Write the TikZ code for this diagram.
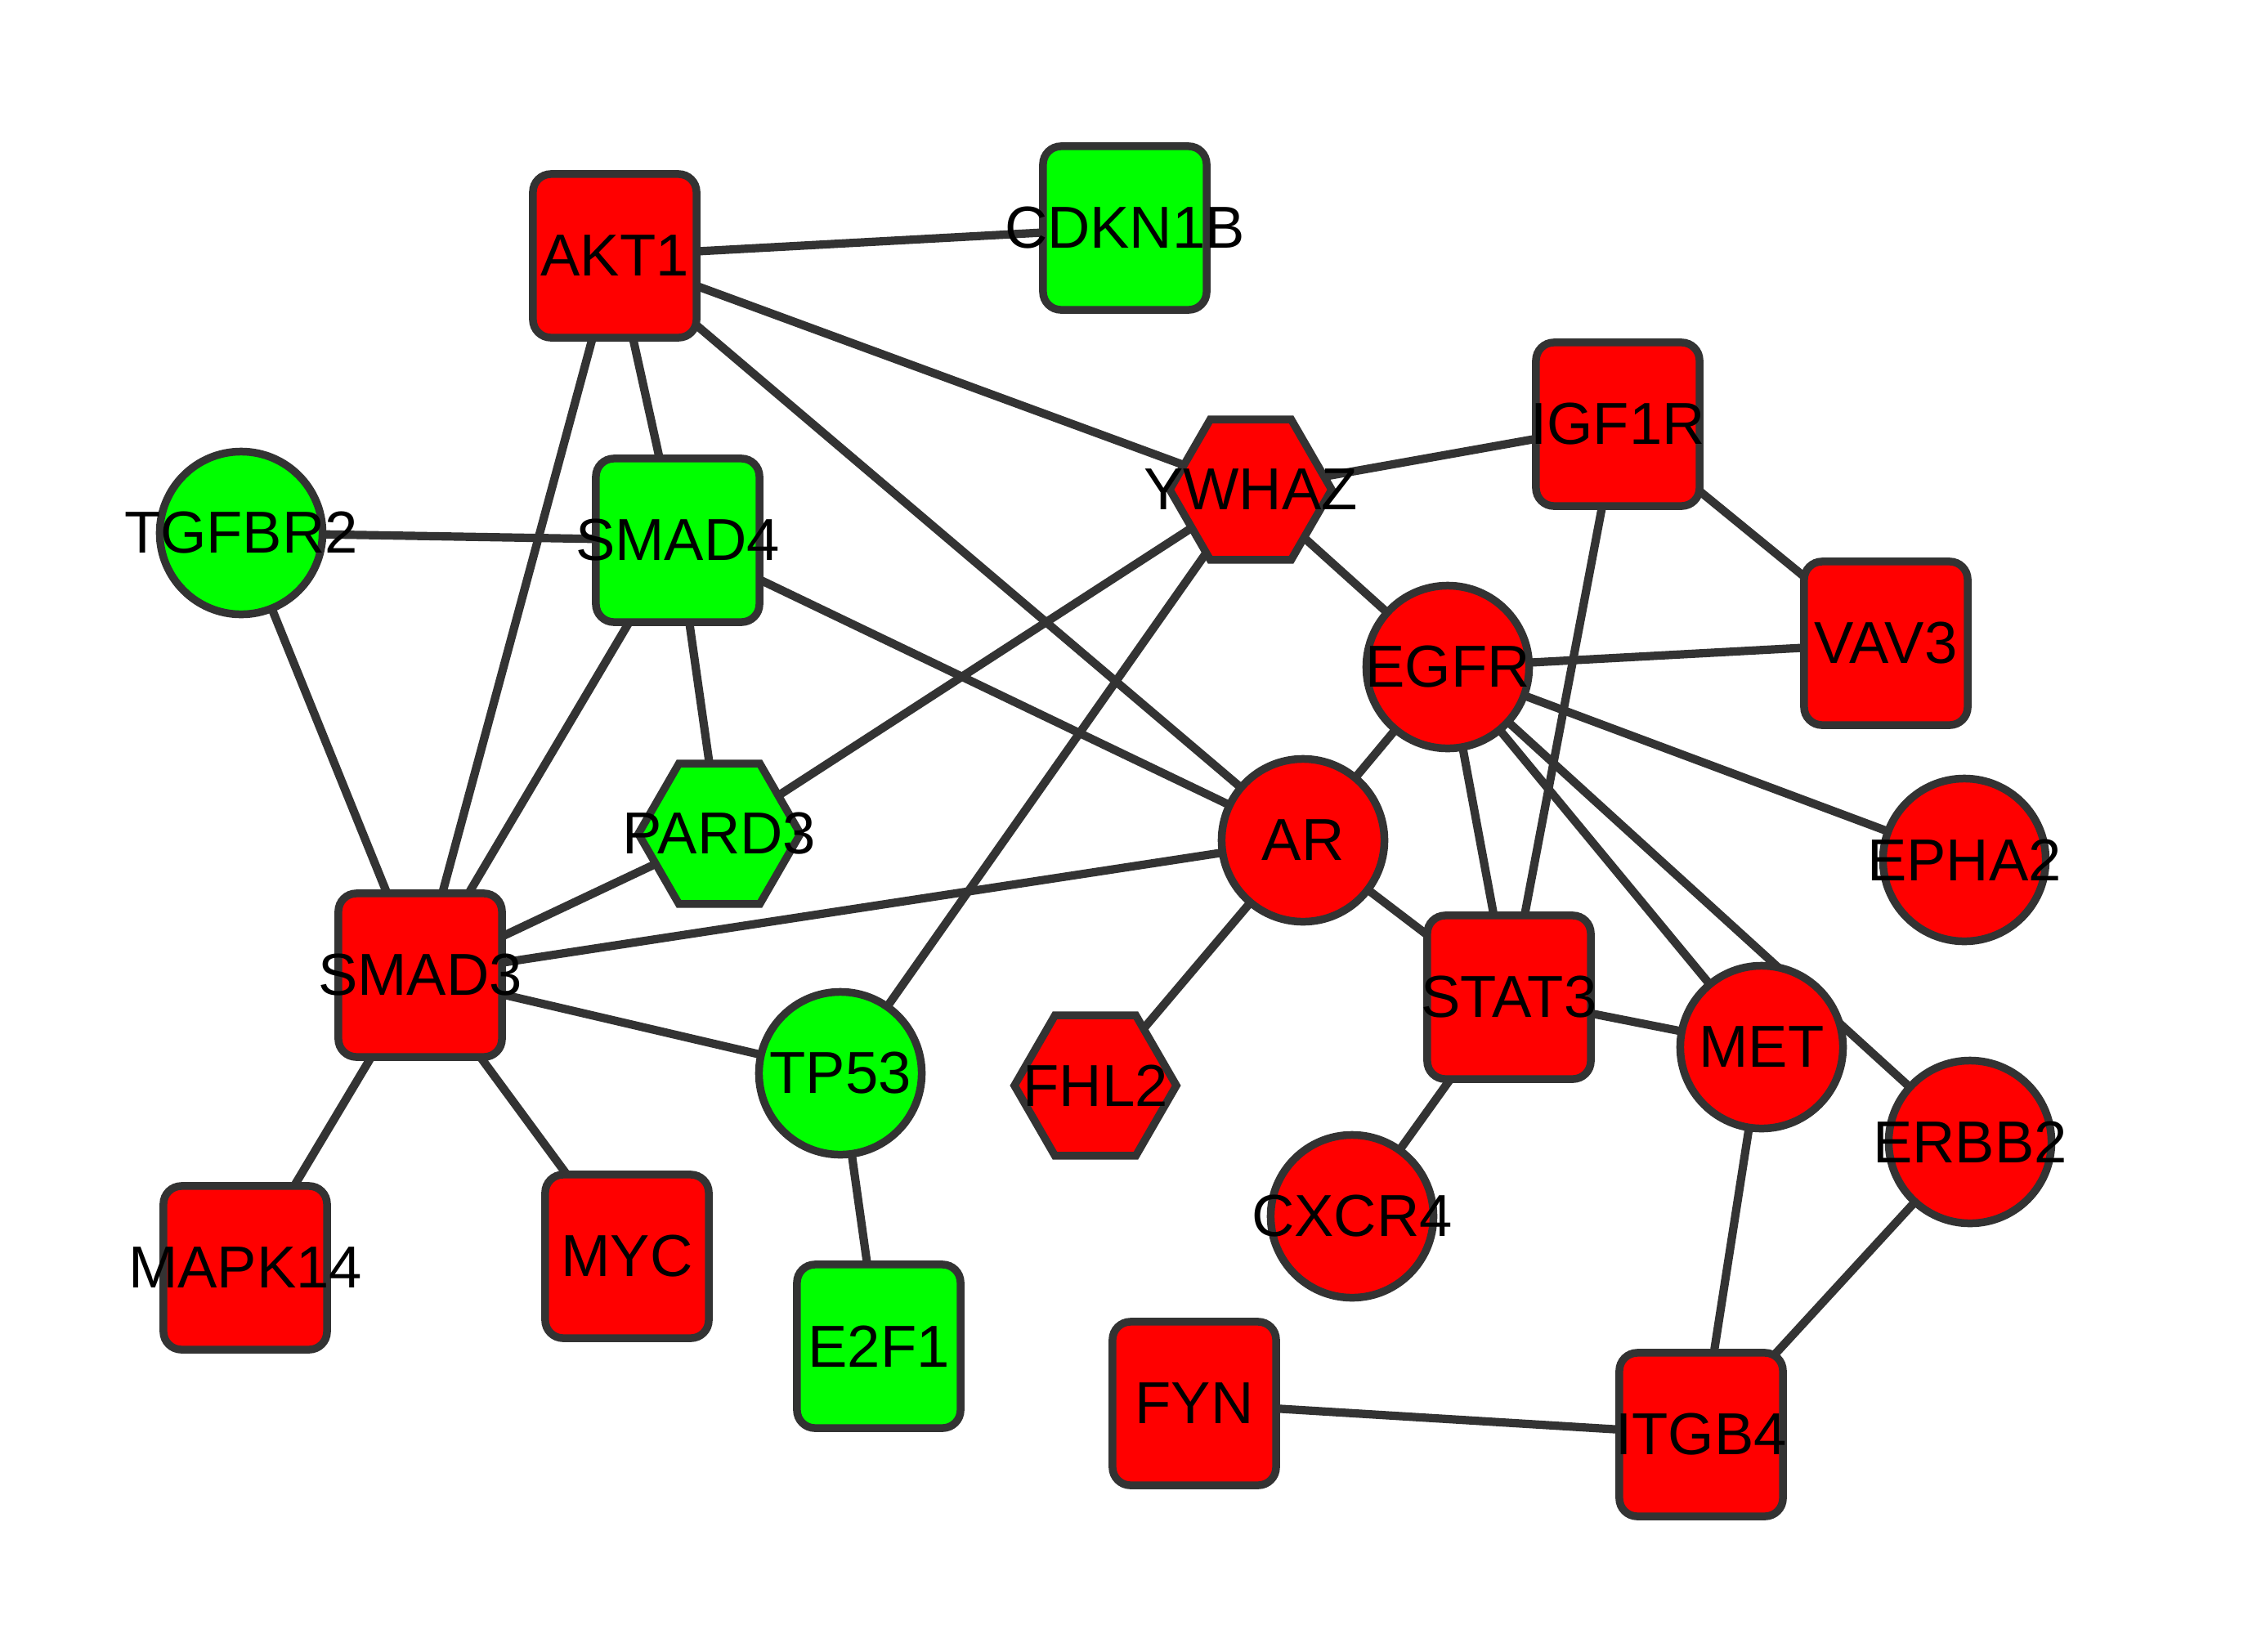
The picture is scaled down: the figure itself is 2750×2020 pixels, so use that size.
\documentclass[tikz,border=0pt]{standalone}
\usepackage{fontspec}
\setmainfont{Liberation Sans}
\usetikzlibrary{shapes.geometric,backgrounds}
\definecolor{nodered}{HTML}{FF0000}
\definecolor{nodegreen}{HTML}{00FF00}
\definecolor{edgegray}{HTML}{333333}
\begin{document}
\begin{tikzpicture}[x=0.01cm,y=-0.01cm,
  gene/.style={draw=edgegray, line width=2.7pt, inner sep=0pt, outer sep=0pt},
  boxgene/.style={gene, rectangle, rounded corners=0.22cm, minimum width=2cm, minimum height=2cm},
  circgene/.style={gene, circle, minimum size=1.99cm},
  hexgene/.style={gene, regular polygon, regular polygon sides=6, minimum size=1.98cm},
  upreg/.style={fill=nodered},
  downreg/.style={fill=nodegreen},
  genelabel/.style={font=\fontsize{20.6pt}{24pt}\selectfont, text=black, inner sep=0pt},
  txt/.style={label={[genelabel]center:#1}},
  link/.style={draw=edgegray, line width=2.9pt}]
\useasboundingbox (0,0) rectangle (2750,2020);

% nodes
\node[boxgene, upreg, txt=AKT1] (AKT1) at (752,313) {};
\node[boxgene, downreg, txt=CDKN1B] (CDKN1B) at (1376,279) {};
\node[boxgene, upreg, txt=IGF1R] (IGF1R) at (1979,519) {};
\node[boxgene, downreg, txt=SMAD4] (SMAD4) at (829,661) {};
\node[boxgene, upreg, txt=VAV3] (VAV3) at (2307,787) {};
\node[boxgene, upreg, txt=SMAD3] (SMAD3) at (514,1193) {};
\node[boxgene, upreg, txt=STAT3] (STAT3) at (1846,1220) {};
\node[boxgene, upreg, txt=MAPK14] (MAPK14) at (300,1551) {};
\node[boxgene, upreg, txt=MYC] (MYC) at (767,1537) {};
\node[boxgene, downreg, txt=E2F1] (E2F1) at (1075,1647) {};
\node[boxgene, upreg, txt=FYN] (FYN) at (1461,1717) {};
\node[boxgene, upreg, txt=ITGB4] (ITGB4) at (2081,1755) {};

\node[circgene, downreg, txt=TGFBR2] (TGFBR2) at (295,652) {};
\node[circgene, upreg, txt=EGFR] (EGFR) at (1771,816) {};
\node[circgene, upreg, txt=AR] (AR) at (1594,1028) {};
\node[circgene, upreg, txt=EPHA2] (EPHA2) at (2403,1052) {};
\node[circgene, downreg, txt=TP53] (TP53) at (1028,1313) {};
\node[circgene, upreg, txt=MET] (MET) at (2155,1281) {};
\node[circgene, upreg, txt=ERBB2] (ERBB2) at (2410,1397) {};
\node[circgene, upreg, txt=CXCR4] (CXCR4) at (1654,1488) {};

\node[hexgene, upreg, txt=YWHAZ] (YWHAZ) at (1530,599) {};
\node[hexgene, downreg, txt=PARD3] (PARD3) at (880,1020) {};
\node[hexgene, upreg, txt=FHL2] (FHL2) at (1340,1328) {};

% edges
\begin{scope}[on background layer]
\fill[white] (0,0) rectangle (2750,2020);
\draw[link] (AKT1.center) -- (CDKN1B.center);
\draw[link] (AKT1.center) -- (YWHAZ.center);
\draw[link] (AKT1.center) -- (AR.center);
\draw[link] (AKT1.center) -- (SMAD4.center);
\draw[link] (AKT1.center) -- (SMAD3.center);
\draw[link] (TGFBR2.center) -- (SMAD4.center);
\draw[link] (TGFBR2.center) -- (SMAD3.center);
\draw[link] (SMAD4.center) -- (SMAD3.center);
\draw[link] (SMAD4.center) -- (PARD3.center);
\draw[link] (SMAD4.center) -- (AR.center);
\draw[link] (YWHAZ.center) -- (IGF1R.center);
\draw[link] (YWHAZ.center) -- (PARD3.center);
\draw[link] (YWHAZ.center) -- (TP53.center);
\draw[link] (YWHAZ.center) -- (EGFR.center);
\draw[link] (IGF1R.center) -- (VAV3.center);
\draw[link] (IGF1R.center) -- (STAT3.center);
\draw[link] (EGFR.center) -- (VAV3.center);
\draw[link] (EGFR.center) -- (EPHA2.center);
\draw[link] (EGFR.center) -- (AR.center);
\draw[link] (EGFR.center) -- (STAT3.center);
\draw[link] (EGFR.center) -- (MET.center);
\draw[link] (EGFR.center) -- (ERBB2.center);
\draw[link] (PARD3.center) -- (SMAD3.center);
\draw[link] (SMAD3.center) -- (AR.center);
\draw[link] (SMAD3.center) -- (TP53.center);
\draw[link] (SMAD3.center) -- (MAPK14.center);
\draw[link] (SMAD3.center) -- (MYC.center);
\draw[link] (TP53.center) -- (E2F1.center);
\draw[link] (AR.center) -- (FHL2.center);
\draw[link] (AR.center) -- (STAT3.center);
\draw[link] (STAT3.center) -- (MET.center);
\draw[link] (STAT3.center) -- (CXCR4.center);
\draw[link] (MET.center) -- (ITGB4.center);
\draw[link] (ERBB2.center) -- (ITGB4.center);
\draw[link] (FYN.center) -- (ITGB4.center);
\end{scope}
\end{tikzpicture}
\end{document}
